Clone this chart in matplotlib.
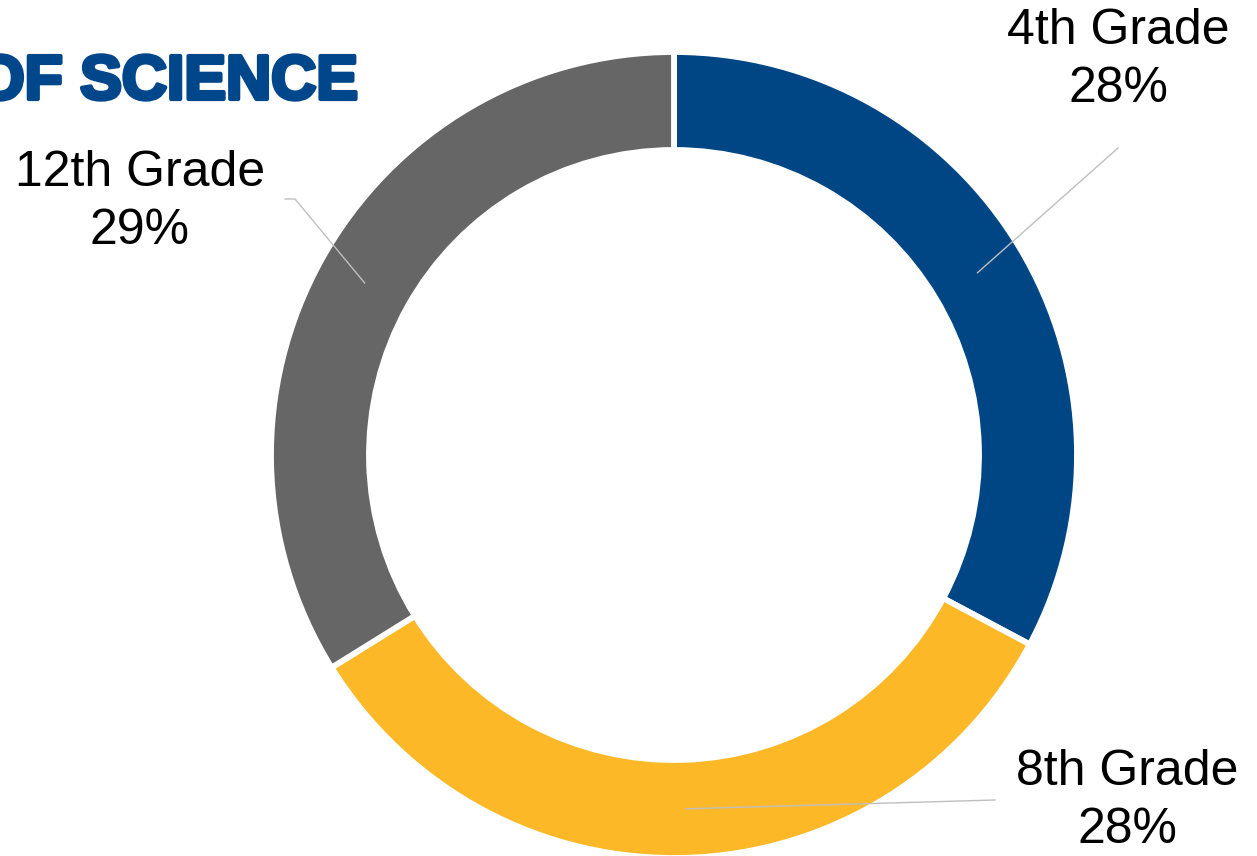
import numpy as np
import matplotlib

matplotlib.use("Agg")
import matplotlib.pyplot as plt
import matplotlib.patheffects as pe

grades = ["4th Grade", "8th Grade", "12th Grade"]
shares = [27.9, 28.4, 28.8]
colors = ["#004685", "#FDB827", "#666666"]

W, H = 1257, 856
fig = plt.figure(figsize=(W / 100, H / 100), dpi=100)
ax = fig.add_axes([0, 0, 1, 1])

cx, cy, R = 674, H - 455, 403
width = 98
wedges, _ = ax.pie(
    shares,
    colors=colors,
    startangle=90,
    counterclock=False,
    center=(cx, cy),
    radius=R,
    frame=True,
    wedgeprops=dict(width=width, edgecolor="white", linewidth=4.2),
)
ax.set_xlim(0, W)
ax.set_ylim(0, H)
ax.set_aspect("equal")
ax.axis("off")

# label placement (pixel coords from top)
label_pos = [(1118, 60), (1127, 801), (140, 202)]
line_end = [[(1118, 148)], [(995, 800)], [(295, 199), (285, 199)]]
rmid = R - width / 2
for w, g, v, (lx, ly), ends in zip(wedges, grades, shares, label_pos, line_end):
    mid = np.deg2rad((w.theta1 + w.theta2) / 2)
    ax_pt = (cx + rmid * np.cos(mid), cy + rmid * np.sin(mid))
    xs = [ax_pt[0]] + [e[0] for e in ends]
    ys = [ax_pt[1]] + [H - e[1] for e in ends]
    ax.plot(xs, ys, color="#BFBFBF", lw=1.0)
    ax.text(lx, H - ly, f"{g}\n{v:.0f}%", ha="center", va="center",
            fontsize=36, family="Liberation Sans", linespacing=1.35,
            color="black")

ax.text(358, H - 99, "OF SCIENCE", ha="right", va="baseline",
        fontsize=45, fontweight="bold", family="Liberation Sans",
        color="#00468A",
        path_effects=[pe.withStroke(linewidth=3, foreground="#00468A")])

plt.savefig("out.png", dpi=100)
